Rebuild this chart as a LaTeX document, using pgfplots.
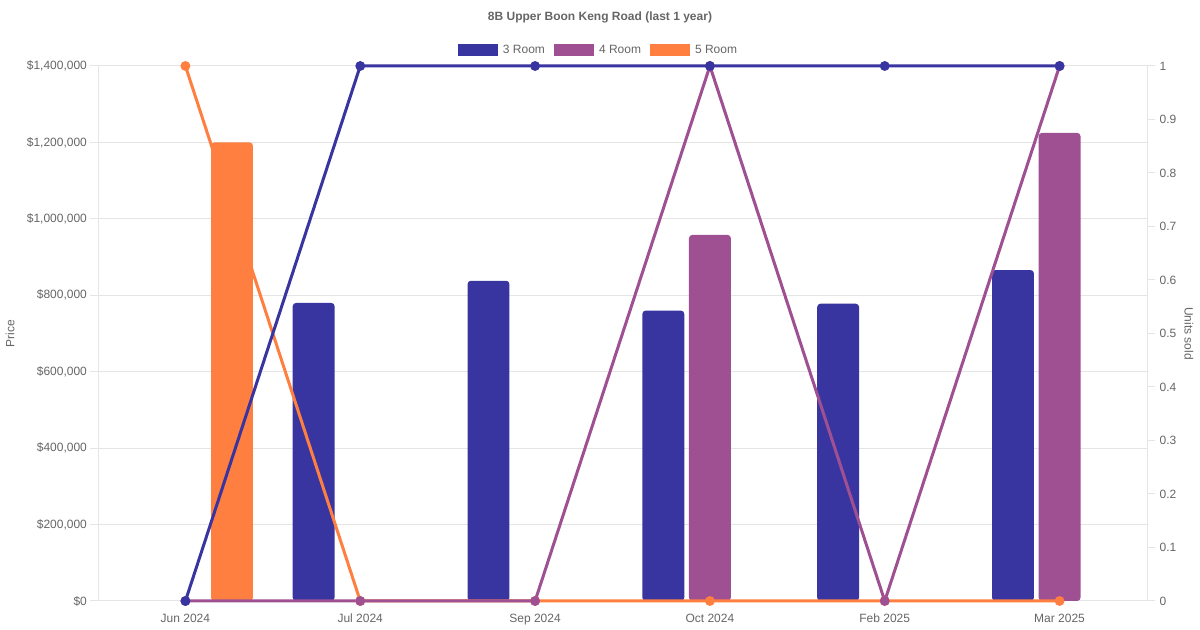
\documentclass[border=0pt]{standalone}
\usepackage{pgfplots}
\pgfplotsset{compat=1.18}
\usepackage{fontspec}
\setmainfont{Liberation Sans}
\definecolor{c3}{RGB}{57,53,160}
\definecolor{c4}{RGB}{159,80,147}
\definecolor{c5}{RGB}{255,127,64}
\definecolor{tgray}{HTML}{666666}
\definecolor{ggray}{HTML}{E5E5E5}
\begin{document}
\begin{tikzpicture}[x=1pt,y=1pt]
\useasboundingbox (0,0) rectangle (900,472.5);
\fill[white] (0,0) rectangle (900,472.5);
\begin{axis}[
  at={(73.5pt,21.75pt)}, anchor=south west,
  scale only axis, width=786.75pt, height=401.25pt,
  xmin=-0.5, xmax=5.5, ymin=0, ymax=1400000,
  xtick={0,1,2,3,4,5},
  xticklabels={Jun 2024,Jul 2024,Sep 2024,Oct 2024,Feb 2025,Mar 2025},
  ytick={0,200000,400000,600000,800000,1000000,1200000,1400000},
  yticklabels={{\$0},{\$200,000},{\$400,000},{\$600,000},{\$800,000},{\$1,000,000},{\$1,200,000},{\$1,400,000}},
  scaled y ticks=false,
  axis x line*=bottom, axis y line*=left,
  axis line style={ggray, line width=0.75pt},
  ymajorgrids, grid style={ggray, line width=0.75pt},
  tick align=outside, major tick length=6pt,
  ytick style={ggray, line width=0.75pt},
  xtick style={draw=none},
  tick label style={font=\fontsize{9}{10}\selectfont, text=tgray},
  yticklabel style={xshift=1.2pt},
  xticklabel style={text height=7pt, text depth=2pt, yshift=0.2pt},
  every axis y label/.style={at={(axis description cs:-0.0839,0.5)}, anchor=center, rotate=90, font=\fontsize{9}{10}\selectfont, text=tgray},
  ylabel={Price},
  legend columns=3,
  legend style={at={(0.4773,1.0299)}, anchor=center, draw=none, fill=none,
    font=\fontsize{9}{10}\selectfont, text=tgray,
    /tikz/every odd column/.append style={column sep=2pt},
    /tikz/every even column/.append style={column sep=4.5pt}},
  legend image code/.code={\fill[#1, sharp corners] (0pt,-4.5pt) rectangle (30pt,4.5pt);},
]
\addplot[ybar, bar width=31.4pt, bar shift=-34.95pt, fill=c3, draw=none, rounded corners=2.5pt]
  coordinates {(1,780000) (2,838000) (3,760000) (4,778000) (5,866000)};
\addlegendentry{3 Room}
\addplot[ybar, bar width=31.4pt, bar shift=0pt, fill=c4, draw=none, rounded corners=2.5pt]
  coordinates {(3,958000) (5,1225000)};
\addlegendentry{4 Room}
\addplot[ybar, bar width=31.4pt, bar shift=34.95pt, fill=c5, draw=none, rounded corners=2.5pt]
  coordinates {(0,1200000)};
\addlegendentry{5 Room}
\end{axis}
\begin{axis}[
  at={(73.5pt,21.75pt)}, anchor=south west,
  scale only axis, width=786.75pt, height=401.25pt,
  xmin=-0.5, xmax=5.5, ymin=0, ymax=1,
  axis x line=none, axis y line*=right,
  axis line style={ggray, line width=0.75pt},
  ytick={0,0.1,0.2,0.3,0.4,0.5,0.6,0.7,0.8,0.9,1},
  yticklabels={0,0.1,0.2,0.3,0.4,0.5,0.6,0.7,0.8,0.9,1},
  tick align=outside, major tick length=6pt,
  ytick style={ggray, line width=0.75pt},
  tick label style={font=\fontsize{9}{10}\selectfont, text=tgray},
  every axis y label/.style={at={(axis description cs:1.0400,0.5)}, anchor=center, rotate=-90, font=\fontsize{9}{10}\selectfont, text=tgray},
  ylabel={Units sold},
  clip=false,
]
\addplot[c5, line width=2.25pt, mark=*, mark size=2.5pt, mark options={draw=none, fill=c5}]
  coordinates {(0,1) (1,0) (2,0) (3,0) (4,0) (5,0)};
\addplot[c4, line width=2.25pt, mark=*, mark size=2.5pt, mark options={draw=none, fill=c4}]
  coordinates {(0,0) (1,0) (2,0) (3,1) (4,0) (5,1)};
\addplot[c3, line width=2.25pt, mark=*, mark size=2.5pt, mark options={draw=none, fill=c3}]
  coordinates {(0,0) (1,1) (2,1) (3,1) (4,1) (5,1)};
\end{axis}
\node[font=\bfseries\fontsize{9}{10}\selectfont, text=tgray] at (450,459.75) {8B Upper Boon Keng Road (last 1 year)};
\end{tikzpicture}
\end{document}
